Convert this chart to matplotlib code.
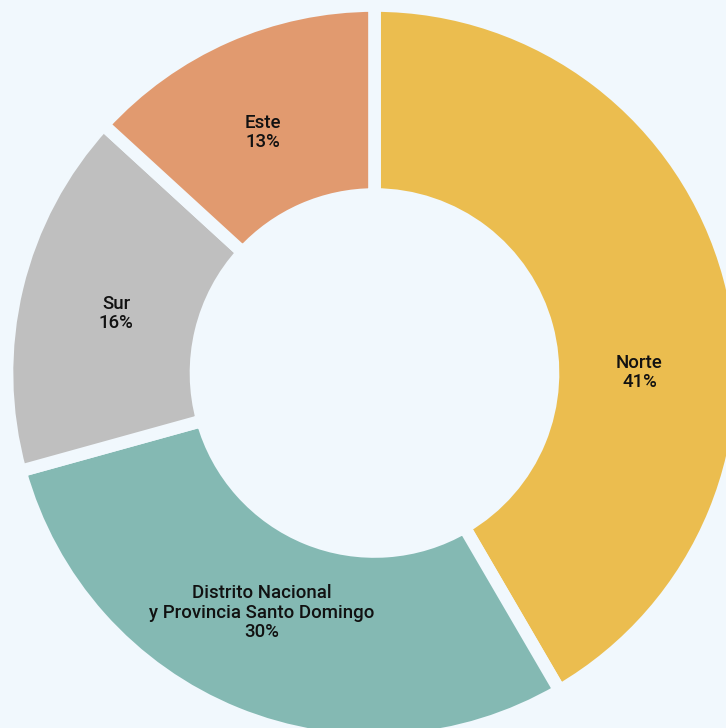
import matplotlib
matplotlib.use('Agg')

import numpy as np
import matplotlib.pyplot as plt

regions = ['Norte', 'Distrito Nacional\ny Provincia Santo Domingo', 'Sur', 'Este']
# slice sizes as measured off the ring, and the percent labels as printed
shares = [41.6, 29.1, 16.1, 13.2]
pct_labels = ['41%', '30%', '16%', '13%']
colors = ['#EBBD4F', '#84B9B3', '#BFBFBF', '#E19A6F']
# small nudges (degrees) so labels sit in the visible part of each slice
label_shift = [-15, -3, 0.5, 1.2]

bg = '#F1F8FD'

fig = plt.figure(figsize=(7.26, 7.28), dpi=100, facecolor=bg)
ax = fig.add_axes([0, 0, 1, 1])
ax.set_facecolor(bg)

cx, cy = 374.5, 355
R = 367.5
wedges, _ = ax.pie(shares, colors=colors, startangle=90, counterclock=False,
                   center=(cx, cy), radius=R, frame=True,
                   wedgeprops=dict(width=R - 178.5, edgecolor=bg, linewidth=9.1))
ax.set_xlim(0, 726)
ax.set_ylim(0, 728)
ax.set_aspect('equal')
ax.axis('off')

for w, name, pct, shift in zip(wedges, regions, pct_labels, label_shift):
    ang = np.deg2rad((w.theta1 + w.theta2) / 2 + shift)
    r = 265
    ax.text(cx + r * np.cos(ang), cy + r * np.sin(ang), f'{name}\n{pct}',
            ha='center', va='center', fontsize=13.4, family='Roboto',
            fontweight='medium', color='#111111', linespacing=1.1)

plt.savefig('out.png', dpi=100, facecolor=bg)
